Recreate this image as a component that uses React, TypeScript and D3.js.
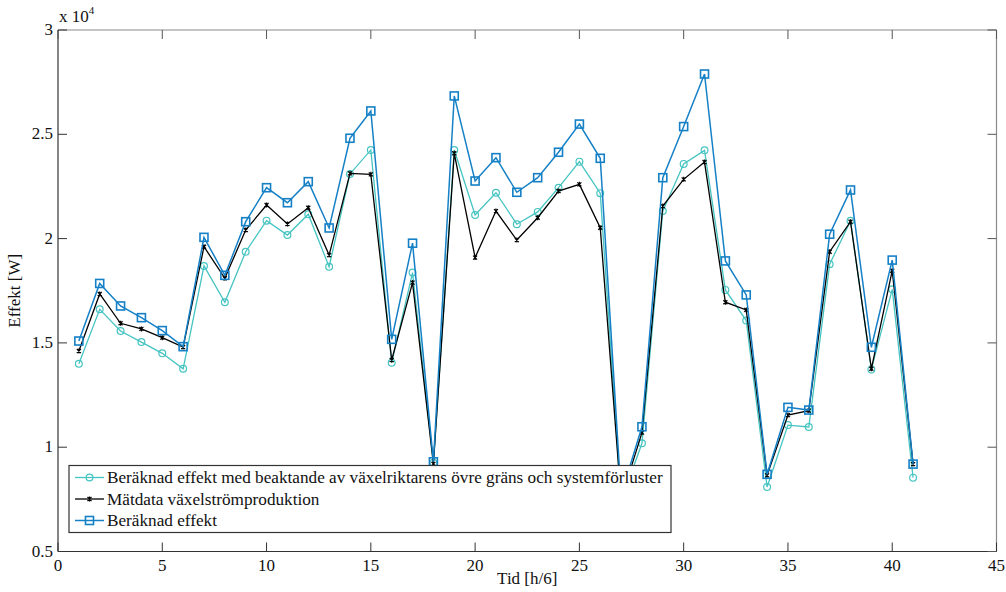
import React from "react";
import * as d3 from "d3";

const tid = d3.range(1, 42);

const beraknadMedGrans = [
  14000, 16610, 15570, 15040, 14500, 13760, 18690, 16950, 19370, 20860,
  20170, 21170, 18650, 23100, 24250, 14050, 18370, 9250, 24250, 21130,
  22200, 20690, 21280, 22440, 23690, 22180, 7400, 10190, 21320, 23580,
  24230, 17540, 16070, 8090, 11060, 10970, 18770, 20850, 13730, 17570, 8540,
];

const matdata = [
  14610, 17345, 15940, 15670, 15250, 14800, 19610, 18100, 20410, 21610,
  20700, 21480, 19210, 23130, 23080, 14180, 17890, 9200, 24090, 19090,
  21320, 19930, 21000, 22280, 22600, 20520, 7500, 10700, 21560, 22840,
  23670, 16950, 16580, 8650, 11540, 11750, 19370, 20810, 13760, 18460, 9190,
];

const beraknad = [
  15090, 17850, 16770, 16210, 15590, 14820, 20060, 18240, 20810, 22440,
  21720, 22730, 20510, 24810, 26120, 15170, 19780, 9300, 26840, 22760,
  23880, 22220, 22920, 24140, 25490, 23850, 7700, 10980, 22920, 25370,
  27890, 18930, 17300, 8700, 11910, 11780, 20210, 22330, 14790, 18970, 9190,
];

const xTicks = [0, 5, 10, 15, 20, 25, 30, 35, 40, 45];
const yTicks = [5000, 10000, 15000, 20000, 25000, 30000];
const yTickLabels = ["0.5", "1", "1.5", "2", "2.5", "3"];

const legendNames = [
  "Beräknad effekt med beaktande av växelriktarens övre gräns och systemförluster",
  "Mätdata växelströmproduktion",
  "Beräknad effekt",
];

const CYAN = "#45c4c2";
const BLUE = "#1580c6";
const FONT = "'Liberation Serif', 'Times New Roman', serif";

const W = 1006;
const H = 592;
const left = 58, right = 996.5, top = 30, bottom = 551.5;

const x = d3.scaleLinear().domain([0, 45]).range([left, right]);
const y = d3.scaleLinear().domain([5000, 30000]).range([bottom, top]);

const line = d3
  .line<number>()
  .x((_, i) => x(tid[i]))
  .y((d) => y(d));

const Marker = ({ kind, cx, cy, color }: { kind: string; cx: number; cy: number; color: string }) => {
  if (kind === "circle")
    return <circle cx={cx} cy={cy} r={3.4} fill="none" stroke={color} strokeWidth={1.2} />;
  if (kind === "square")
    return <rect x={cx - 4} y={cy - 4} width={8} height={8} fill="none" stroke={color} strokeWidth={1.6} />;
  return (
    <path
      d={`M${cx - 2},${cy - 2}L${cx + 2},${cy + 2}M${cx - 2},${cy + 2}L${cx + 2},${cy - 2}M${cx},${cy - 2.5}L${cx},${cy + 2.5}`}
      stroke={color}
      strokeWidth={1.2}
    />
  );
};

const series = [
  { values: beraknadMedGrans, color: CYAN, kind: "circle", width: 1.3 },
  { values: matdata, color: "#000000", kind: "star", width: 1.3 },
  { values: beraknad, color: BLUE, kind: "square", width: 1.5 },
];

export default function App() {
  const legX = 69, legY = 465.5, legW = 602, legH = 67;
  return (
    <svg
      width={W}
      height={H}
      style={{ position: "absolute", left: 0, top: 0, background: "#fff", fontFamily: FONT }}
    >
      {/* axes box */}
      <line x1={left} x2={right} y1={top} y2={top} stroke="#8a8a8a" strokeWidth={1.2} />
      <line x1={right} x2={right} y1={top} y2={bottom} stroke="#8a8a8a" strokeWidth={1.2} />
      <line x1={left} x2={right} y1={bottom} y2={bottom} stroke="#333" strokeWidth={1.2} />
      <line x1={left} x2={left} y1={top} y2={bottom} stroke="#333" strokeWidth={1.2} />

      {xTicks.map((t) => (
        <g key={"x" + t}>
          <line x1={x(t)} x2={x(t)} y1={bottom} y2={bottom - 9} stroke="#333" />
          <line x1={x(t)} x2={x(t)} y1={top} y2={top + 9} stroke="#555" />
          <text x={x(t)} y={bottom + 19} fontSize={17} textAnchor="middle" fill="#111">
            {t}
          </text>
        </g>
      ))}
      {yTicks.map((t, i) => (
        <g key={"y" + t}>
          <line x1={left} x2={left + 9} y1={y(t)} y2={y(t)} stroke="#333" />
          <line x1={right} x2={right - 9} y1={y(t)} y2={y(t)} stroke="#555" />
          <text x={left - 5} y={y(t) + 5} fontSize={17} textAnchor="end" fill="#111">
            {yTickLabels[i]}
          </text>
        </g>
      ))}

      <text x={left + 1} y={top - 8} fontSize={17} fill="#111">
        x 10
        <tspan fontSize={11} dy={-8}>
          4
        </tspan>
      </text>

      <text x={(left + right) / 2} y={H - 8} fontSize={17} textAnchor="middle" fill="#111">
        Tid [h/6]
      </text>
      <text
        transform={`translate(20,${(top + bottom) / 2}) rotate(-90)`}
        fontSize={17}
        textAnchor="middle"
        fill="#111"
      >
        Effekt [W]
      </text>

      {series.map((s, si) => (
        <g key={"s" + si}>
          <path d={line(s.values) || ""} fill="none" stroke={s.color} strokeWidth={s.width} />
          {s.values.map((v, i) => (
            <Marker key={i} kind={s.kind} cx={x(tid[i])} cy={y(v)} color={s.color} />
          ))}
        </g>
      ))}

      {/* legend */}
      <rect x={legX} y={legY} width={legW} height={legH} fill="#fff" stroke="#333" strokeWidth={1.2} />
      {series.map((s, i) => {
        const ly = legY + 12 + i * 21.5;
        return (
          <g key={"l" + i}>
            <line x1={75} x2={104} y1={ly} y2={ly} stroke={s.color} strokeWidth={s.width} />
            <Marker kind={s.kind} cx={89.5} cy={ly} color={s.color} />
            <text x={107} y={ly + 5.5} fontSize={17.2} fill="#111">
              {legendNames[i]}
            </text>
          </g>
        );
      })}
    </svg>
  );
}
